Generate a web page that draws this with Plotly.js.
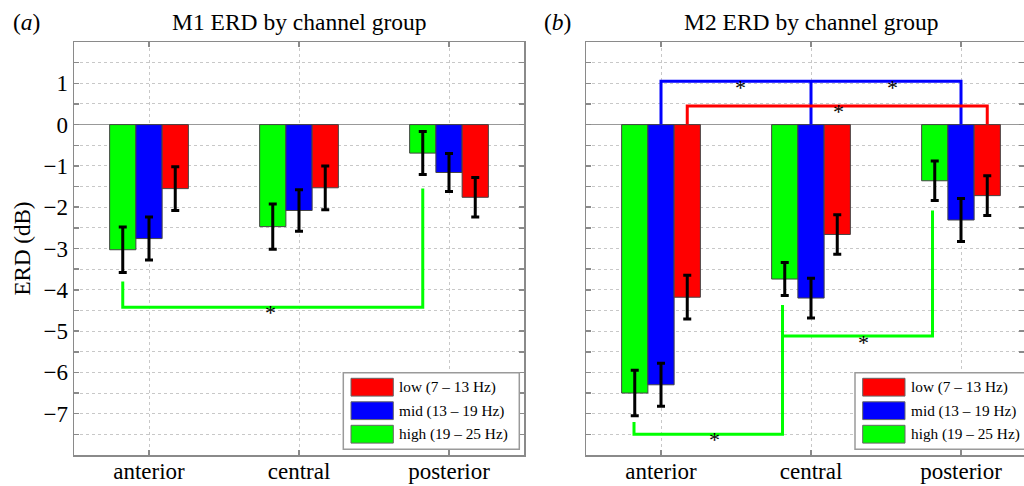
<!DOCTYPE html>
<html>
<head>
<meta charset="utf-8">
<script src="https://cdn.plot.ly/plotly-3.0.1.min.js"></script>
<style>html,body{margin:0;padding:0;background:#fff;}#chart{width:1024px;height:486px;}</style>
</head>
<body>
<div id="chart"></div>
<script>
// ---- data ----
const categories = ['anterior', 'central', 'posterior'];
const catPos = [1, 2, 3];
const seriesNames = ['high (19 – 25 Hz)', 'mid (13 – 19 Hz)', 'low (7 – 13 Hz)'];
const seriesColors = ['#00ff00', '#0000ff', '#ff0000'];

// M1 panel (a)
const m1High = [-3.03, -2.47, -0.69];
const m1HighErr = [0.55, 0.55, 0.52];
const m1Mid = [-2.76, -2.08, -1.16];
const m1MidErr = [0.52, 0.50, 0.46];
const m1Low = [-1.55, -1.53, -1.76];
const m1LowErr = [0.53, 0.53, 0.48];

// M2 panel (b)
const m2High = [-6.50, -3.74, -1.36];
const m2HighErr = [0.55, 0.40, 0.48];
const m2Mid = [-6.30, -4.20, -2.31];
const m2MidErr = [0.52, 0.48, 0.52];
const m2Low = [-4.18, -2.66, -1.72];
const m2LowErr = [0.53, 0.48, 0.48];

// significance brackets
const m1SigGreenX = [0.825, 0.825, 2.825, 2.825];
const m1SigGreenY = [-3.80, -4.42, -4.42, -1.55];
const m1StarX = [1.81];
const m1StarY = [-4.56];

const m2SigGreenX = [0.82, 0.82, 1.81, 1.81, null, 1.81, 2.81, 2.81];
const m2SigGreenY = [-7.20, -7.50, -7.50, -4.37, null, -5.12, -5.12, -2.08];
const m2SigBlueX = [1, 1, 3, 3, null, 2, 2];
const m2SigBlueY = [0, 1.05, 1.05, 0, null, 0, 1.05];
const m2SigRedX = [1.175, 1.175, 3.175, 3.175];
const m2SigRedY = [0, 0.45, 0.45, 0];
const m2StarX = [1.355, 2.35, 1.53, 2.54, 2.18];
const m2StarY = [-7.63, -5.28, 0.90, 0.90, 0.32];

const panelTitles = ['M1 ERD by channel group', 'M2 ERD by channel group'];
const panelLabels = ['(<i>a</i>)', '(<i>b</i>)'];
const yTickVals = [-7, -6, -5, -4, -3, -2, -1, 0, 1];
const yTitle = 'ERD (dB)';

// ---- layout helpers ----
const W = 1024, H = 486, T = 42, B = 31;
const FONT = '"Liberation Serif", "Times New Roman", serif';
const px = x => x / W;
const py = y => (H - B - y) / (H - T - B);

function bar(vals, errs, idx, xa, ya) {
  return {
    type: 'bar', x: catPos, y: vals, name: seriesNames[idx],
    xaxis: xa, yaxis: ya, showlegend: false,
    marker: {color: seriesColors[idx], line: {color: '#444', width: 1}},
    error_y: {type: 'data', array: errs, visible: true, color: '#000', thickness: 3, width: 4}
  };
}
function line(xs, ys, color, xa, ya) {
  return {type: 'scatter', mode: 'lines', x: xs, y: ys, xaxis: xa, yaxis: ya,
    showlegend: false, hoverinfo: 'skip', connectgaps: false,
    line: {color: color, width: 3}};
}

const traces = [
  bar(m1High, m1HighErr, 0, 'x', 'y'),
  bar(m1Mid, m1MidErr, 1, 'x', 'y'),
  bar(m1Low, m1LowErr, 2, 'x', 'y'),
  bar(m2High, m2HighErr, 0, 'x2', 'y2'),
  bar(m2Mid, m2MidErr, 1, 'x2', 'y2'),
  bar(m2Low, m2LowErr, 2, 'x2', 'y2'),
  line(m1SigGreenX, m1SigGreenY, '#00ff00', 'x', 'y'),
  line(m2SigGreenX, m2SigGreenY, '#00ff00', 'x2', 'y2'),
  line(m2SigBlueX, m2SigBlueY, '#0000ff', 'x2', 'y2'),
  line(m2SigRedX, m2SigRedY, '#ff0000', 'x2', 'y2')
];

const gridCol = '#c8c8c8';
const frameCol = '#8a8a8a';
function xAxis(domain, range, anchor) {
  return {
    domain: domain, range: range, anchor: anchor,
    tickvals: catPos, ticktext: categories,
    tickfont: {family: FONT, size: 23, color: '#000'},
    ticklabelstandoff: -5,
    showgrid: true, gridcolor: gridCol, griddash: 'dot', gridwidth: 1,
    showline: true, linecolor: frameCol, linewidth: 1.5, mirror: 'ticks',
    ticks: 'inside', ticklen: 5, tickcolor: frameCol, tickwidth: 1.5,
    zeroline: false, automargin: false, fixedrange: true
  };
}
function yAxis(anchor, labels) {
  return {
    range: [-8, 2], anchor: anchor, domain: [0, 1],
    tickvals: yTickVals, showticklabels: labels,
    tickfont: {family: FONT, size: 23, color: '#000'},
    title: labels ? {text: yTitle, font: {family: FONT, size: 23, color: '#000'}, standoff: 6} : {text: ''},
    showgrid: true, gridcolor: gridCol, griddash: 'dot', gridwidth: 1,
    minor: {dtick: 0.5, tick0: 0, showgrid: true, gridcolor: gridCol, griddash: 'dot', gridwidth: 1,
            ticks: 'inside', ticklen: 5, tickcolor: frameCol, tickwidth: 1.5},
    showline: true, linecolor: frameCol, linewidth: 1.5, mirror: 'ticks',
    ticks: 'inside', ticklen: 5, tickcolor: frameCol, tickwidth: 1.5,
    zeroline: true, zerolinecolor: '#999999', zerolinewidth: 1.5,
    automargin: false, fixedrange: true
  };
}

const annotations = [];
const shapes = [];
// titles and panel labels
[['x', 0], ['x2', 1]].forEach(([xa, i]) => {
  annotations.push({xref: xa, yref: 'paper', x: 2, y: py(22), text: panelTitles[i],
    showarrow: false, xanchor: 'center', yanchor: 'middle',
    font: {family: FONT, size: 23.5, color: '#000'}});
});
annotations.push({xref: 'paper', yref: 'paper', x: px(11), y: py(22), text: panelLabels[0],
  showarrow: false, xanchor: 'left', yanchor: 'middle', font: {family: FONT, size: 23.5, color: '#000'}});
annotations.push({xref: 'paper', yref: 'paper', x: px(542), y: py(22), text: panelLabels[1],
  showarrow: false, xanchor: 'left', yanchor: 'middle', font: {family: FONT, size: 23.5, color: '#000'}});

// significance stars
m1StarX.forEach((x, i) => annotations.push({xref: 'x', yref: 'y', x: x, y: m1StarY[i], text: '*',
  showarrow: false, xanchor: 'center', yanchor: 'middle', font: {family: FONT, size: 22, color: '#000'}}));
m2StarX.forEach((x, i) => annotations.push({xref: 'x2', yref: 'y2', x: x, y: m2StarY[i], text: '*',
  showarrow: false, xanchor: 'center', yanchor: 'middle', font: {family: FONT, size: 22, color: '#000'}}));

// custom legends (order: low, mid, high)
function legend(left) {
  shapes.push({type: 'rect', xref: 'paper', yref: 'paper',
    x0: px(left), x1: px(left + 176), y0: py(449.3), y1: py(372.7),
    line: {color: '#9a9a9a', width: 1.5}, fillcolor: '#ffffff', layer: 'above'});
  const order = [2, 1, 0];
  const rowTop = [378.3, 401.8, 425.3];
  order.forEach((s, r) => {
    shapes.push({type: 'rect', xref: 'paper', yref: 'paper',
      x0: px(left + 7.7), x1: px(left + 50), y0: py(rowTop[r] + 17.8), y1: py(rowTop[r]),
      line: {color: '#666', width: 1}, fillcolor: seriesColors[s], layer: 'above'});
    annotations.push({xref: 'paper', yref: 'paper', x: px(left + 54), y: py(rowTop[r] + 9),
      text: seriesNames[s], showarrow: false, xanchor: 'left', yanchor: 'middle',
      font: {family: FONT, size: 15.3, color: '#000'}});
  });
}
legend(343.3);
legend(855);

const layout = {
  width: W, height: H,
  margin: {l: 0, r: 0, t: T, b: B, pad: 0},
  paper_bgcolor: '#fff', plot_bgcolor: '#fff',
  barmode: 'group', bargap: 0.475, bargroupgap: 0,
  showlegend: false,
  xaxis: xAxis([px(74), px(524)], [0.5, 3.5], 'y'),
  yaxis: yAxis('x', true),
  xaxis2: xAxis([px(586), 1], [0.5, 0.5 + 438 / 150], 'y2'),
  yaxis2: yAxis('x2', false),
  annotations: annotations,
  shapes: shapes,
  font: {family: FONT}
};

Plotly.newPlot('chart', traces, layout, {displayModeBar: false, staticPlot: true});
</script>
</body>
</html>
